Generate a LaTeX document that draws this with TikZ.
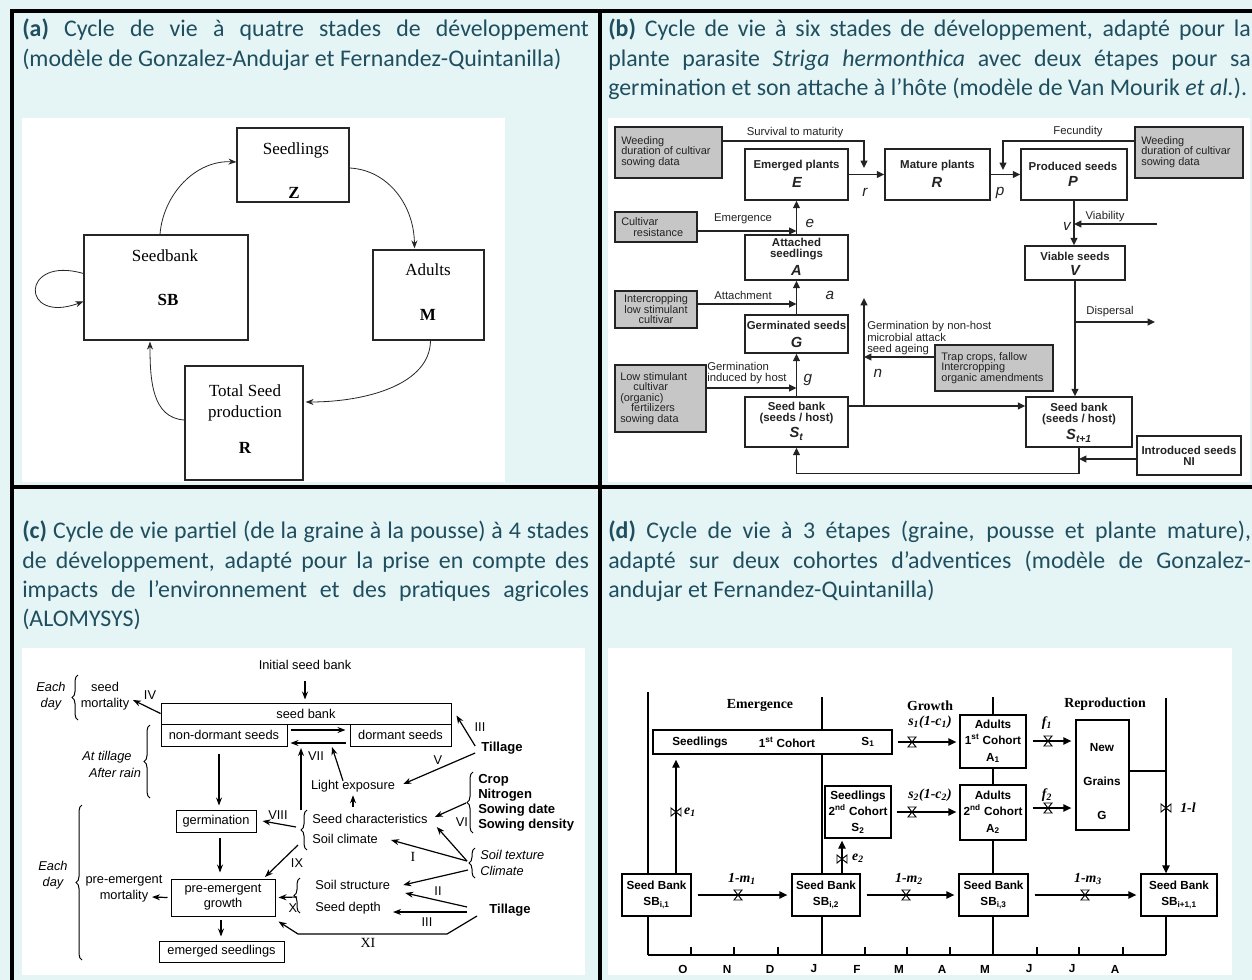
\documentclass[tikz,border=0pt]{standalone}
\usepackage{fontspec}
\setmainfont{Carlito}
\newfontfamily\arialf{Liberation Sans}
\newfontfamily\timesf{Liberation Serif}
\usetikzlibrary{arrows.meta,calc,decorations.pathreplacing}
\definecolor{bgc}{RGB}{229,245,245}
\definecolor{hdrc}{RGB}{30,78,95}
\definecolor{bgray}{RGB}{198,198,198}
\definecolor{bink}{RGB}{35,35,35}
\hyphenpenalty=10000
\tikzset{
  hdr/.style={anchor=north west, inner sep=0pt, align=justify, text=hdrc,
    font=\fontsize{17.9}{21.9}\selectfont},
  wh/.style 2 args={minimum width=#1*0.75pt, minimum height=#2*0.75pt},
  frameline/.style={line width=2.6pt, black},
  abox/.style={draw=black!85, line width=0.9pt, inner sep=0pt, fill=white},
  atxt/.style={font=\timesf\fontsize{12.75}{15}\selectfont, inner sep=0pt},
  abold/.style={font=\timesf\bfseries\fontsize{12.75}{15}\selectfont, inner sep=0pt},
  aarr/.style={line width=0.6pt, black!85, -{Stealth[length=6pt,width=4.5pt]}},
  bbox/.style={draw=bink, line width=1.1pt, inner sep=0pt, fill=white},
  gbox/.style={bbox, fill=bgray},
  btxt/.style={font=\arialf\fontsize{8.2}{7.9}\selectfont, inner sep=0pt, text=bink},
  blab/.style={font=\arialf\fontsize{8.5}{7.9}\selectfont, inner sep=0pt, text=bink},
  bbold/.style={font=\arialf\bfseries\fontsize{8.6}{8.6}\selectfont, inner sep=0pt, text=bink},
  bbig/.style={font=\arialf\bfseries\itshape\fontsize{11}{12}\selectfont, inner sep=0pt, text=bink},
  bit/.style={font=\arialf\itshape\fontsize{11.5}{12}\selectfont, inner sep=0pt, text=bink},
  bln/.style={line width=1.1pt, draw=bink},
  barr/.style={bln, -{Triangle[length=5.5pt,width=5pt]}},
  cbox/.style={draw, line width=0.75pt, inner sep=0pt, fill=white, font=\arialf\fontsize{9.6}{11.25}\selectfont},
  ctxt/.style={font=\arialf\fontsize{9.6}{12}\selectfont, inner sep=0pt},
  cbold/.style={font=\arialf\bfseries\fontsize{9.8}{11.25}\selectfont, inner sep=0pt},
  cit/.style={font=\arialf\itshape\fontsize{9.6}{12}\selectfont, inner sep=0pt},
  cser/.style={font=\timesf\fontsize{10.5}{12}\selectfont, inner sep=0pt},
  carr/.style={line width=0.9pt, -{Stealth[length=6pt,width=4.5pt]}},
  cbrace/.style={decorate, decoration={brace, amplitude=4.5pt}, line width=0.75pt},
  dbox/.style={draw, line width=1pt, inner sep=0pt, fill=white, font=\arialf\bfseries\fontsize{8.8}{12.2}\selectfont},
  dtxt/.style={font=\arialf\bfseries\fontsize{8.8}{12.2}\selectfont, inner sep=0pt},
  dser/.style={font=\timesf\bfseries\fontsize{10.4}{12}\selectfont, inner sep=0pt},
  dit/.style={font=\timesf\bfseries\itshape\fontsize{10.4}{12}\selectfont, inner sep=0pt},
  dln/.style={line width=0.8pt},
  darr/.style={line width=1pt, -{Triangle[length=6pt,width=5.5pt]}},
  hvalve/.pic={\draw[line width=0.7pt] (-4,-5)--(4,-5)--(-4,5)--(4,5)--cycle;},
  vvalve/.pic={\draw[line width=0.7pt] (-5,-4)--(-5,4)--(5,-4)--(5,4)--cycle;},
}
\begin{document}
\begin{tikzpicture}[x=0.75pt,y=-0.75pt]
\useasboundingbox (0,0) rectangle (1252,980);
\fill[bgc] (0,0) rectangle (1252,980);
% white image areas
\fill[white] (22,118) rectangle (505,482);
\fill[white] (608,118) rectangle (1250,482);
\fill[white] (22,648) rectangle (585,975);
\fill[white] (608,648) rectangle (1232,975);
% frame
\draw[frameline] (1262,11) -- (12,11) -- (12,992);
\draw[frameline] (600,11) -- (600,992);
\draw[frameline] (12,487) -- (1262,487);
% headers
\node[hdr, text width=425pt] (ha) at (22,19) {\textbf{(a)} Cycle de vie à quatre stades de développement\linebreak (modèle de Gonzalez-Andujar et Fernandez-Quintanilla)};
\node[hdr, text width=482pt] (hb) at (608,19) {\textbf{(b)} Cycle de vie à six stades de développement, adapté pour la\linebreak plante parasite \textit{Striga hermonthica} avec deux étapes pour sa\linebreak germination et son attache à l’hôte (modèle de Van Mourik \textit{et al.}).};
\node[hdr, text width=425pt, font=\fontsize{17.9}{22}\selectfont] (hc) at (22,521) {\textbf{(c)} Cycle de vie partiel (de la graine à la pousse) à 4 stades\linebreak de développement, adapté pour la prise en compte des\linebreak impacts de l’environnement et des pratiques agricoles\linebreak (ALOMYSYS)};
\node[hdr, text width=482pt, font=\fontsize{17.9}{22}\selectfont] (hd) at (608,521) {\textbf{(d)} Cycle de vie à 3 étapes (graine, pousse et plante mature),\linebreak adapté sur deux cohortes d’adventices (modèle de Gonzalez-\linebreak andujar et Fernandez-Quintanilla)};

% ================= panel (a)
\node[abox, wh={112}{74}] (sdl) at (293,165) {};
\node[atxt] (sdlt) at (296,150) {Seedlings};
\node[abold] (sdlz) at (294,193) {Z};
\node[abox, wh={111}{90}] (adl) at (428.5,295) {};
\node[atxt] (adlt) at (428,270) {Adults};
\node[abold] (adlm) at (428,315) {M};
\node[abox, wh={118}{114}] (tsp) at (244,423) {};
\node[atxt] (tspt) at (245,391) {Total Seed};
\node[atxt] (tspp) at (245,413) {production};
\node[abold] (tspr) at (245,448) {R};
\node[abox, wh={164}{105}] (sbk) at (166,287.5) {};
\node[atxt] (sbkt) at (165,256) {Seedbank};
\node[abold] (sbks) at (168,300) {SB};
\draw[aarr] ($(sdl.east)+(0,3)$) .. controls (388,170) and (414,205) .. ($(adl.north)+(-14,-1)$);
\draw[aarr] ($(adl.south)+(2,0)$) .. controls (430,385) and (365,402) .. ($(tsp.east)+(2,-21)$);
\draw[aarr] ($(tsp.west)+(0,-3)$) .. controls (152,418) and (150,380) .. ($(sbk.south)+(-16,1)$);
\draw[aarr] ($(sbk.north)+(-6,0)$) .. controls (163,195) and (195,160) .. ($(sdl.west)+(0,-3)$);
\draw[aarr] ($(sbk.west)+(0,-14)$) .. controls (20,255) and (20,325) .. ($(sbk.west)+(0,14)$);

% ================= panel (b)
\node[gbox, wh={107}{51}] (w1) at (668.5,152.5) {};
\node[btxt, anchor=west, align=left] (w1t) at (621,152) {Weeding\\duration of cultivar\\sowing data};
\node[bbox, wh={103}{51}] (E) at (796.5,174.5) {};
\node[bbold] (Et) at (796.5,166) {Emerged plants};
\node[bbig] (El) at (797,182) {E};
\node[bbox, wh={105}{51}] (R) at (937.5,174.5) {};
\node[bbold] (Rt) at (937.5,166) {Mature plants};
\node[bbig] (Rl) at (937,182) {R};
\node[bbox, wh={106}{51}] (P) at (1074,174.5) {};
\node[bbold] (Pt) at (1073,166) {Produced seeds};
\node[bbig] (Pl) at (1073,181) {P};
\node[gbox, wh={108}{51}] (w2) at (1189,152.5) {};
\node[btxt, anchor=west, align=left] (w2t) at (1141,152) {Weeding\\duration of cultivar\\sowing data};
\node[bbox, wh={100}{34}] (V) at (1075,263) {};
\node[bbold] (Vt) at (1075,256) {Viable seeds};
\node[bbig] (Vl) at (1075,270) {V};
\node[gbox, wh={82}{30}] (cr) at (656,227) {};
\node[btxt, anchor=west, align=left] (crt) at (621,227) {Cultivar\\\hspace*{1.1em}resistance};
\node[bbox, wh={103}{45}] (A) at (796.5,257.5) {};
\node[bbold, align=center] (At) at (796.5,249) {Attached\\seedlings};
\node[bbig] (Al) at (796.5,270) {A};
\node[gbox, wh={82}{37}] (ic) at (656,309.5) {};
\node[btxt, align=center] (ict) at (656,309.5) {Intercropping\\low stimulant\\cultivar};
\node[bbox, wh={103}{38}] (G) at (796.5,334) {};
\node[bbold] (Gt) at (796.5,325) {Germinated seeds};
\node[bbig] (Gl) at (796.5,342) {G};
\node[gbox, wh={91}{67}] (ls) at (660.5,398.5) {};
\node[btxt, anchor=west, align=left] (lst) at (620,398.5) {Low stimulant\\\hspace*{1.2em}cultivar\\(organic)\\\hspace*{1em}fertilizers\\sowing data};
\node[bbox, wh={103}{50}] (St) at (796.5,422) {};
\node[bbold, align=center] (Stt) at (796.5,413) {Seed bank\\(seeds / host)};
\node[bbig] (Stl) at (796.5,434) {S\textsubscript{\itshape t}};
\node[bbox, wh={106}{50}] (S1) at (1079,422) {};
\node[bbold, align=center] (S1t) at (1079,414) {Seed bank\\(seeds / host)};
\node[bbig] (S1l) at (1079,436) {S\textsubscript{\itshape t+1}};
\node[gbox, wh={118}{46}] (trap) at (994,368) {};
\node[btxt, anchor=west, align=left] (trapt) at (941,368) {Trap crops, fallow\\Intercropping\\organic amendments};
\node[bbox, wh={104}{39}] (ni) at (1189,455.5) {};
\node[bbold, align=center] (nit) at (1189,456) {Introduced seeds\\NI};
% labels
\node[blab] (lsv) at (795,133) {Survival to maturity};
\node[blab] (lfe) at (1078,132) {Fecundity};
\node[blab] (lem) at (743,219) {Emergence};
\node[blab] (lat) at (743,295) {Attachment};
\node[blab, anchor=west, align=left] (lgi) at (707,373) {Germination\\induced by host};
\node[blab] (lvi) at (1105,217) {Viability};
\node[blab] (ldi) at (1110,312) {Dispersal};
\node[blab, anchor=west, align=left] (lgn) at (867,338) {Germination by non-host\\microbial attack\\seed ageing};
\node[bit] (lr) at (865,192) {r};
\node[bit] (lp) at (1000,193) {p};
\node[bit] (le) at (810,223) {e};
\node[bit] (la) at (830,295) {a};
\node[bit] (lg) at (808,380) {g};
\node[bit] (ln) at (878,373) {n};
\node[bit] (lv) at (1067,226) {v};
% connectors
\coordinate (sv) at (864,141);
\coordinate (svend) at (864,168);
\draw[barr] (w1.east |- sv) -| (svend);
\draw[barr] (E.east) -- (R.west);
\draw[barr] (R.east) -- (P.west);
\coordinate (fc) at (1003,141);
\coordinate (fcend) at (1003,170);
\draw[barr] (w2.west |- fc) -| (fcend);
\draw[barr] (P.south) -- (P.south |- V.north);
\coordinate (viab) at (1157,224);
\draw[barr] (viab) -- (P.south |- viab);
\draw[barr] (V.south) -- (V.south |- S1.north);
\coordinate (dsp) at (1155,322);
\draw[barr] (V.south |- dsp) -- (dsp);
\coordinate (h406) at (0,406);
\draw[barr] (St.east |- h406) -- (S1.west |- h406);
\coordinate (nb) at (864,406);
\coordinate (nt) at (864,298);
\draw[barr] (nb) -- (nt);
\coordinate (tp) at (864,357);
\draw[barr] (trap.west |- tp) -- (tp);
\draw[barr] (S1.south) -- ++(0,26) -| (St.south);
\coordinate (h459) at (0,459);
\draw[barr] (ni.west |- h459) -- (S1.south |- h459);
\draw[barr] (St.north) -- (G.south);
\draw[barr] (G.north) -- (A.south);
\draw[barr] (A.north) -- (E.south);
\coordinate (h388) at (0,388);
\draw[barr] (ls.east |- h388) -- (St.north |- h388);
\coordinate (h304) at (0,304);
\draw[barr] (ic.east |- h304) -- (G.north |- h304);
\coordinate (h231) at (0,231);
\draw[barr] (cr.east |- h231) -- (A.north |- h231);

% ================= panel (c)
\node[ctxt] (isb) at (305,665) {Initial seed bank};
\node[cbox, wh={290}{21}] (sb) at (306,713.5) {};
\node[ctxt] (sbt) at (306,714) {seed bank};
\node[cbox, wh={126}{22}] (nd) at (224,735) {non-dormant seeds};
\node[cbox, wh={101}{22}] (ds) at (400.5,735) {dormant seeds};
\draw[carr] ($(isb.south)+(0,11)$) -- ($(sb.north)+(-1,-3)$);
\draw[carr] ($(nd.east)+(3,-5)$) -- ($(ds.west)+(-4,-5)$);
\draw[carr] ($(ds.west)+(-4,8)$) -- ($(nd.east)+(3,8)$);
\node[cit, align=center] (ed1) at (51,696) {Each\\day};
\draw[cbrace] (78,720) -- (78,675);
\node[ctxt, align=center] (smort) at (105,696) {seed\\mortality};
\coordinate (ivt) at (133,700);
\draw[carr] (sb.west) -- (ivt);
\node[ctxt] (iv) at (150,695) {IV};
\draw[cbrace] (150,798) -- (150,725);
\node[cit] (atl) at (107,757) {At tillage};
\node[cit] (aft) at (115,773) {After rain};
\node[cbox, wh={80}{22}] (germ) at (216,821) {germination};
\node[cbox, wh={104}{37}, align=center] (pre) at (223,897.5) {pre-emergent\\growth};
\node[cbox, wh={125}{21}] (em) at (221.5,951.5) {emerged seedlings};
\node[ctxt, align=center] (pmort) at (124,889) {pre-emergent\\mortality};
\node[cit, align=center] (ed2) at (53,875) {Each\\day};
\draw[cbrace] (82,960) -- (82,805);
\draw[carr] ($(nd.south)+(-5,7)$) -- ($(germ.north)+(3,-4)$);
\draw[carr] ($(germ.south)+(4,5)$) -- ($(pre.north)+(-3,-6)$);
\draw[carr] ($(pre.south)+(-2,3)$) -- ($(em.north)+(-0.5,-4)$);
\coordinate (pmt) at (152,897);
\draw[carr] ($(pre.west)+(-3,0)$) -- (pmt);
\coordinate (vii0) at (301,810);
\coordinate (vii1) at (301,748);
\draw[carr] (vii0) -- (vii1);
\node[ctxt] (vii) at (316,756) {VII};
\node[ctxt] (light) at (353,786) {Light exposure};
\coordinate (lt) at (332,747);
\draw[carr] ($(light.north)+(-10,1)$) -- (lt);
\draw[carr] ($(light.south)+(0,15)$) -- ($(light.south)+(0,3)$);
\draw[cbrace] (307,850) -- (307,810);
\node[ctxt, anchor=west] (schar) at (312,819) {Seed characteristics};
\node[ctxt, anchor=west] (sclim) at (312,839) {Soil climate};
\coordinate (viii0) at (296,827);
\draw[carr] (viii0) -- ($(germ.east)+(6,0)$);
\node[ctxt] (viii) at (278,815) {VIII};
\coordinate (ix0) at (298,845);
\coordinate (ix1) at (265,877);
\draw[carr] (ix0) -- (ix1);
\node[ctxt] (ix) at (297,863) {IX};
\node[cbold] (till1) at (502,748) {Tillage};
\node[ctxt] (iii1) at (480,727) {III};
\draw[carr] ($(till1.west)+(-6,-2)$) -- ($(sb.east)+(5,2)$);
\node[ctxt] (v5) at (438,760) {V};
\draw[carr] ($(till1.west)+(-6,5)$) -- ($(light.east)+(8,-2)$);
\draw[cbrace] (473,833) -- (473,772);
\node[cbold, anchor=west, align=left] (crop) at (478,802.5) {Crop\\Nitrogen\\Sowing date\\Sowing density};
\node[ctxt] (vi) at (462,822) {VI};
\coordinate (vi0) at (466,803);
\draw[carr] (vi0) -- ($(schar.east)+(7,-2)$);
\draw[cbrace] (475,878) -- (475,848);
\node[cit, anchor=west, align=left] (stex) at (480,862.5) {Soil texture\\Climate};
\coordinate (st0) at (467,861);
\coordinate (st1) at (468,870);
\draw[carr] (st0) -- ($(schar.east)+(9,8)$);
\draw[carr] (st0) -- ($(sclim.east)+(13,1)$);
\node[cser] (i1) at (413,857) {I};
\draw[cbrace] (300,913) -- (300,878);
\node[ctxt, anchor=west] (sstr) at (315,885) {Soil structure};
\node[ctxt, anchor=west] (sdep) at (315,908) {Seed depth};
\draw[carr] (st1) -- ($(sstr.east)+(13,0)$);
\node[cbold] (till2) at (510,910) {Tillage};
\coordinate (t20) at (467,907);
\coordinate (t21) at (467,912);
\coordinate (t22) at (477,916);
\draw[carr] (t20) -- ($(sstr.east)+(15,8)$);
\node[ctxt] (ii) at (438,891) {II};
\draw[carr] (t21) -- ($(sdep.east)+(12,4)$);
\node[ctxt] (iii2) at (427,922) {III};
\draw[carr] (t22) -- (447,934) -- (298,934) -- ($(pre.south east)+(3,5)$);
\node[cser] (xi) at (368,943) {XI};
\coordinate (x0) at (297,897);
\draw[carr] (x0) -- ($(pre.east)+(3,0)$);
\node[ctxt] (x10) at (293,908) {X};

% ================= panel (d)
\coordinate (v1t) at (648,692); \coordinate (v1b) at (648,955);
\coordinate (v2t) at (822,697); \coordinate (v2b) at (822,955);
\coordinate (v3t) at (993,697); \coordinate (v3b) at (993,955);
\coordinate (v4t) at (1166,698); \coordinate (v4b) at (1166,955);
\draw[dln] (v1t) -- (v1b);
\draw[dln] (v2t) -- (v2b);
\draw[dln] (v3t) -- (v3b);
\draw[dln] (v1b) -- (v4b);
\foreach \x in {691,734,778,865,907,950,1037,1079,1123} \draw[dln] (\x,955) -- (\x,947);
\foreach \x/\m [count=\i] in {683/O,727/N,770/D,814/J,857/F,899/M,942/A,985/M,1029/J,1072/J,1115/A}
  \node[dtxt] (mon\i) at (\x,969) {\m};
\node[dser] (hem) at (760,705) {Emergence};
\node[dser] (hgr) at (930,706) {Growth};
\node[dser] (hre) at (1105,704) {Reproduction};
\node[dbox, wh={239}{24}] (s1) at (772.5,742) {};
\node[dtxt] (s1a) at (700,742) {Seedlings};
\node[dtxt] (s1b) at (787,742) {1\textsuperscript{st} Cohort};
\node[dtxt] (s1c) at (868,742) {S\textsubscript{1}};
\node[dbox, wh={66}{52}, align=center] (s2) at (858,812) {Seedlings\\2\textsuperscript{nd} Cohort\\S\textsubscript{2}};
\node[dbox, wh={66}{53}, align=center] (a1) at (993,741.5) {Adults\\1\textsuperscript{st} Cohort\\A\textsubscript{1}};
\node[dbox, wh={66}{55}, align=center] (a2) at (993,812.5) {Adults\\2\textsuperscript{nd} Cohort\\A\textsubscript{2}};
\node[dbox, wh={53}{110}] (gg) at (1102.5,775) {};
\node[dtxt] (gg1) at (1102,748) {New};
\node[dtxt] (gg2) at (1102,781) {Grains};
\node[dtxt] (gg3) at (1102,815) {G};
\node[dbox, wh={69}{42}, align=center] (sb1) at (656.5,895) {Seed Bank\\SB\textsubscript{i,1}};
\node[dbox, wh={68}{42}, align=center] (sb2) at (826,895) {Seed Bank\\SB\textsubscript{i,2}};
\node[dbox, wh={69}{42}, align=center] (sb3) at (993.5,895) {Seed Bank\\SB\textsubscript{i,3}};
\node[dbox, wh={76}{42}, align=center] (sb4) at (1179,895) {Seed Bank\\SB\textsubscript{i+1,1}};
% seed bank flows
\draw[darr] ($(sb1.east)+(6,0)$) -- ($(sb2.west)+(-4,0)$);
\pic at (738,895) {hvalve};
\node[dit] (m1) at (742,879) {1-m\textsubscript{1}};
\draw[darr] ($(sb2.east)+(6,0)$) -- ($(sb3.west)+(-4,0)$);
\pic at (906,895) {hvalve};
\node[dit] (m2) at (909,879) {1-m\textsubscript{2}};
\draw[darr] ($(sb3.east)+(6,0)$) -- ($(sb4.west)+(-4,0)$);
\pic at (1085,895) {hvalve};
\node[dit] (m3) at (1088,879) {1-m\textsubscript{3}};
% growth flows
\draw[darr] ($(s1.east)+(5,0)$) -- ($(a1.west)+(-3,0.5)$);
\pic at (912,742) {hvalve};
\node[dit] (sc1) at (930,722) {s\textsubscript{1}(1-c\textsubscript{1})};
\draw[darr] ($(s2.east)+(5,0)$) -- ($(a2.west)+(-3,-0.5)$);
\pic at (912,812) {hvalve};
\node[dit] (sc2) at (930,795) {s\textsubscript{2}(1-c\textsubscript{2})};
\coordinate (h741) at (0,741);
\coordinate (h808) at (0,808);
\draw[darr] ($(a1.east |- h741)+(6,0)$) -- ($(gg.west |- h741)+(-4,0)$);
\pic at (1048,741) {hvalve};
\node[dit] (f1) at (1047,723) {f\textsubscript{1}};
\draw[darr] ($(a2.east |- h808)+(6,0)$) -- ($(gg.west |- h808)+(-4,0)$);
\pic at (1048,808) {hvalve};
\node[dit] (f2) at (1047,795) {f\textsubscript{2}};
% reproduction to seed bank
\coordinate (h771) at (0,771);
\draw[dln] (gg.east |- h771) -- (v4t |- h771);
\draw[darr] (v4t) -- (v4t |- sb4.north);
\draw[dln] (v4t |- sb4.south) -- (v4b);
\pic at (1166,808) {vvalve};
\node[dit] (ll) at (1188,808) {1-l};
% emergence
\coordinate (e1x) at (676,0);
\draw[darr] (sb1.north -| e1x) -- ($(s1.south -| e1x)+(0,5)$);
\pic at (676,812) {vvalve};
\node[dit] (e1) at (690,812) {e\textsubscript{1}};
\coordinate (e2x) at (842,0);
\draw[darr] (sb2.north -| e2x) -- ($(s2.south -| e2x)+(0,2)$);
\pic at (842,859) {vvalve};
\node[dit] (e2) at (858,858) {e\textsubscript{2}};
\end{tikzpicture}
\end{document}
